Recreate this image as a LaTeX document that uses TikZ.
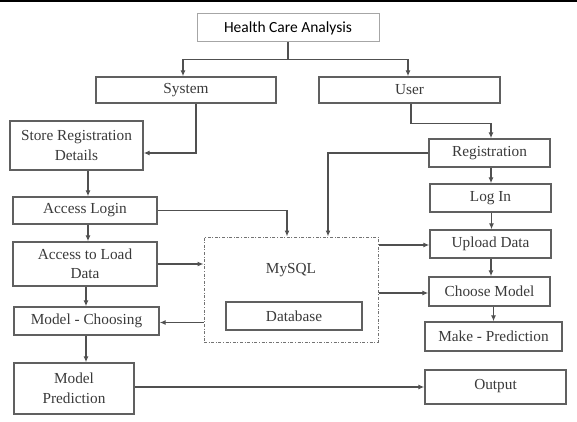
\documentclass[tikz,border=0pt]{standalone}
\usepackage{fontspec}
\setmainfont{Liberation Serif}
\newfontfamily\sansf{Carlito}
\usetikzlibrary{arrows.meta,calc}
\definecolor{linec}{HTML}{505050}
\definecolor{boxc}{HTML}{606060}
\definecolor{txtc}{HTML}{3A3A3A}
\begin{document}
\begin{tikzpicture}[x=1pt,y=-1pt,
  box/.style={draw=boxc,line width=1.4pt,fill=white,inner sep=0pt,align=center,
    text=txtc,font=\fontsize{15.3}{19.5}\selectfont},
  arr/.style={draw=linec,line width=1.3pt,-{Latex[length=6pt,width=5pt]}},
  ln/.style={draw=linec,line width=1.3pt}]
\fill[white] (0,0) rectangle (577,422);
\useasboundingbox (0,0) rectangle (577,422);
\fill[black] (0,0) rectangle (577,1.6);

% nodes
\node[box,draw=black!35,line width=1pt,minimum width=182pt,minimum height=28pt,text=black,
  font=\sansf\fontsize{15.5}{18}\selectfont] (hca) at (288,28) {Health Care Analysis};
\node[box,minimum width=180pt,minimum height=26pt] (sys) at (186,90) {System};
\node[box,minimum width=181pt,minimum height=26pt] (usr) at (409.5,90) {User};
\node[box,minimum width=133pt,minimum height=49pt] (store) at (76.5,145.5) {Store Registration\\Details};
\node[box,minimum width=144pt,minimum height=27pt] (alogin) at (85,210.5) {Access Login};
\node[box,minimum width=144pt,minimum height=44pt] (ald) at (85,264) {Access to Load\\Data};
\node[box,minimum width=145pt,minimum height=28pt] (mc) at (86.5,321) {Model - Choosing};
\node[box,minimum width=120pt,minimum height=51pt] (mp) at (74,388.5) {Model\\Prediction};
\node[box,minimum width=141pt,minimum height=34pt,text depth=6pt] (out) at (495.5,387) {Output};
\node[box,minimum width=121pt,minimum height=28pt] (reg) at (489.5,153) {Registration};
\node[box,minimum width=121pt,minimum height=28pt] (login) at (490.5,198) {Log In};
\node[box,minimum width=121pt,minimum height=28pt] (upload) at (490.5,244) {Upload Data};
\node[box,minimum width=121pt,minimum height=29pt] (choose) at (489.5,291.5) {Choose Model};
\node[box,minimum width=137pt,minimum height=29pt] (make) at (493.5,336.5) {Make - Prediction};
\node[draw=black!55,line width=1pt,dash pattern=on 3pt off 1.6pt on 1pt off 1.6pt,
  minimum width=174pt,minimum height=105pt,inner sep=0pt] (mysql) at (291,289.5) {};
\node[text=txtc,font=\fontsize{15.3}{18}\selectfont] (mysqlt) at (291,270) {MySQL};
\node[box,minimum width=136pt,minimum height=28pt] (db) at (294,316) {Database};

% connectors
\draw[ln] (hca.south) -- ++(0,17) coordinate (hj);
\draw[arr] (hj) -| ($(sys.north)+(-3,0)$);
\draw[arr] (hj) -| ($(usr.north)+(-1.5,0)$);
\draw[arr] ($(sys.south)+(10,0)$) |- ($(store.east)+(0,7.5)$);
\draw[arr] ($(store.south)+(11.5,0)$) coordinate (s1) -- (s1 |- alogin.north);
\draw[arr] (alogin.east) -| ($(mysql.north)+(-4,0)$);
\draw[arr] ($(alogin.south)+(3,0)$) coordinate (s2) -- (s2 |- ald.north);
\draw[arr] (ald.east) -- (ald.east -| mysql.west);
\draw[arr] ($(ald.south)+(1,0)$) coordinate (s3) -- (s3 |- mc.north);
\draw[arr] ($(mc.east -| mysql.west)+(0,1.5)$) -- ($(mc.east)+(0,1.5)$);
\draw[arr] ($(mc.south)+(-0.5,0)$) coordinate (s4) -- (s4 |- mp.north);
\draw[arr] (out.west -| mp.east) -- (out.west);
\draw[arr] ($(usr.south)+(1.5,0)$) -- ++(0,20) -| ($(reg.north)+(1.5,0)$);
\draw[arr] (reg.west) -| ($(mysql.north)+(37,0)$);
\draw[arr] ($(reg.south)+(1.5,0)$) coordinate (s5) -- (s5 |- login.north);
\draw[arr] ($(login.south)+(1,0)$) coordinate (s6) -- (s6 |- upload.north);
\draw[arr] ($(upload.south)+(0.5,0)$) coordinate (s7) -- (s7 |- choose.north);
\draw[arr] (make.north |- choose.south) -- (make.north);
\draw[arr] ($(upload.west -| mysql.east)+(0,1)$) -- ($(upload.west)+(0,1)$);
\draw[arr] ($(choose.west -| mysql.east)+(0,1.5)$) -- ($(choose.west)+(0,1.5)$);
\end{tikzpicture}
\end{document}
